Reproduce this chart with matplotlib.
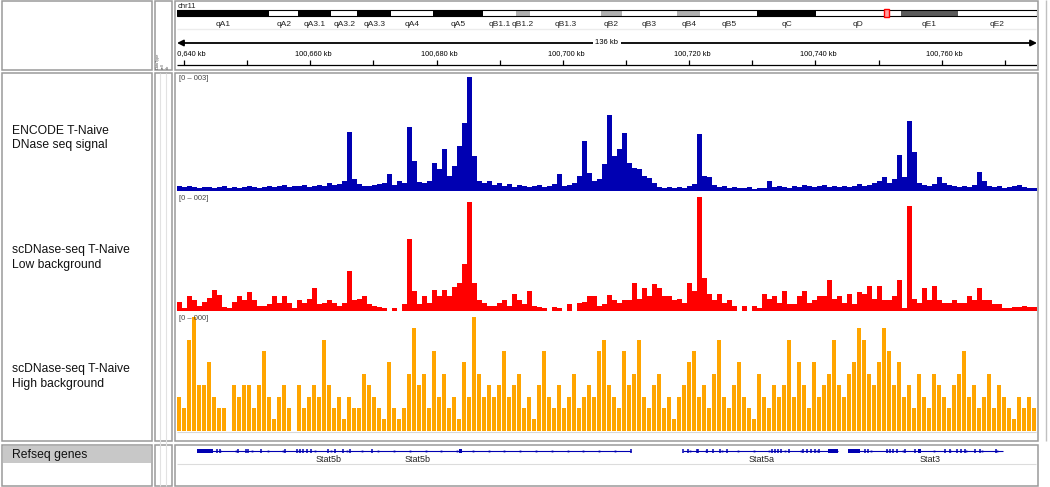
import matplotlib.pyplot as plt
from matplotlib.patches import Rectangle
import numpy as np

plt.rcParams['font.family'] = ['Liberation Sans', 'DejaVu Sans']

W, H = 1050, 487

# visible window on chr11, in kb
view_start = 100638.9
view_end = 100775.1
bin_kb = 0.792

# ENCODE T-Naive DNase signal, range 0-3
encode_signal = [
    0.13, 0.11, 0.13, 0.11, 0.08, 0.11, 0.11, 0.08, 0.11, 0.13, 0.08, 0.11, 0.08, 0.11, 0.13, 0.11, 0.08,
    0.11, 0.13, 0.11, 0.13, 0.16, 0.11, 0.13, 0.13, 0.16, 0.11, 0.13, 0.16, 0.13, 0.21, 0.16, 0.18,
    0.26, 1.55, 0.32, 0.18, 0.13, 0.13, 0.16, 0.18, 0.21, 0.45,
    0.16, 0.26, 0.21, 1.68, 0.79, 0.24, 0.21, 0.26, 0.74, 0.58,
    1.11, 0.39, 0.66, 1.18, 1.79, 3.0, 0.92, 0.26, 0.21, 0.26,
    0.16, 0.21, 0.13, 0.18, 0.11, 0.16, 0.13, 0.11, 0.13, 0.16,
    0.11, 0.13, 0.18, 0.45, 0.13, 0.16, 0.21, 0.39, 1.32, 0.47,
    0.26, 0.32, 0.71, 2.0, 0.92, 1.11, 1.53, 0.74, 0.61, 0.58,
    0.39, 0.34, 0.21, 0.11, 0.08, 0.11, 0.08, 0.11, 0.08, 0.13,
    0.18, 1.5, 0.39, 0.37, 0.16, 0.11, 0.13, 0.08, 0.11, 0.08,
    0.08, 0.11, 0.05, 0.08, 0.08, 0.26, 0.11, 0.13, 0.11, 0.08,
    0.13, 0.11, 0.16, 0.13, 0.11, 0.13, 0.16, 0.11, 0.13, 0.11,
    0.13, 0.11, 0.13, 0.18, 0.13, 0.16, 0.21, 0.26, 0.37, 0.21,
    0.32, 0.95, 0.37, 1.84, 1.03, 0.21, 0.16, 0.13, 0.18, 0.37,
    0.21, 0.16, 0.13, 0.11, 0.13, 0.11, 0.16, 0.5, 0.26, 0.13,
    0.11, 0.13, 0.08, 0.11, 0.13, 0.16, 0.11, 0.08, 0.08,
]

# scDNase-seq low background, range 0-2
low_bg_signal = [
    0.16, 0.05, 0.25, 0.18, 0.09, 0.16, 0.23, 0.37, 0.28, 0.07,
    0.05, 0.16, 0.25, 0.18, 0.32, 0.18, 0.09, 0.09, 0.11, 0.25,
    0.14, 0.25, 0.14, 0.04, 0.18, 0.14, 0.21, 0.4, 0.11, 0.14,
    0.18, 0.14, 0.09, 0.14, 0.7, 0.18, 0.21, 0.25, 0.11, 0.09,
    0.07, 0.05, 0, 0.05, 0, 0.11, 1.25, 0.35, 0.11, 0.25,
    0.14, 0.37, 0.25, 0.37, 0.25, 0.42, 0.49, 0.82, 1.91, 0.49,
    0.18, 0.14, 0.09, 0.09, 0.14, 0.18, 0.09, 0.3, 0.18, 0.11,
    0.35, 0.09, 0.07, 0.05, 0, 0.07, 0.05, 0, 0.12, 0,
    0.14, 0.16, 0.25, 0.25, 0.09, 0.11, 0.28, 0.18, 0.14, 0.18,
    0.18, 0.49, 0.21, 0.4, 0.25, 0.47, 0.4, 0.26, 0.25, 0.18,
    0.21, 0.14, 0.49, 0.35, 2.0, 0.58, 0.3, 0.18, 0.3, 0.14,
    0.18, 0.09, 0, 0.09, 0, 0.09, 0.05, 0.3, 0.21, 0.25,
    0.14, 0.35, 0.11, 0.11, 0.25, 0.35, 0.14, 0.18, 0.26, 0.25,
    0.53, 0.21, 0.25, 0.14, 0.3, 0.11, 0.32, 0.3, 0.44, 0.21,
    0.44, 0.18, 0.18, 0.25, 0.53, 0.05, 1.84, 0.21, 0.14, 0.4,
    0.18, 0.44, 0.18, 0.14, 0.14, 0.18, 0.14, 0.14, 0.26, 0.18,
    0.39, 0.18, 0.18, 0.11, 0.11, 0.04, 0.04, 0.07, 0.07, 0.09,
    0.07, 0.07,
]

# scDNase-seq high background, read counts per bin
high_bg_counts = [
    3, 2, 8, 10, 4, 4, 6, 3, 2, 2,
    0, 4, 3, 4, 4, 2, 4, 7, 3, 1,
    3, 4, 2, 0, 4, 2, 3, 4, 3, 8,
    4, 2, 3, 1, 3, 2, 2, 5, 4, 3,
    2, 1, 6, 2, 1, 2, 5, 9, 4, 5,
    2, 7, 3, 5, 2, 3, 1, 6, 3, 10,
    5, 3, 4, 3, 4, 7, 3, 4, 5, 2,
    3, 1, 4, 7, 3, 2, 4, 2, 3, 5,
    2, 3, 4, 3, 7, 8, 4, 3, 2, 7,
    4, 5, 8, 3, 2, 4, 5, 2, 3, 1,
    3, 4, 6, 7, 3, 4, 2, 5, 8, 3,
    2, 4, 6, 3, 2, 1, 5, 3, 2, 4,
    3, 4, 8, 3, 6, 4, 2, 6, 3, 4,
    5, 8, 4, 3, 5, 6, 9, 8, 5, 4,
    6, 9, 7, 4, 6, 3, 4, 2, 5, 3,
    2, 5, 4, 3, 2, 4, 5, 7, 3, 4,
    2, 3, 5, 2, 4, 3, 2, 1, 3, 2,
    3, 2,
]

track_names = [('ENCODE T-Naive', 'DNase seq signal'),
               ('scDNase-seq T-Naive', 'Low background'),
               ('scDNase-seq T-Naive', 'High background')]
track_ranges = ['[0 \u2013 003]', '[0 \u2013 002]', '[0 \u2013 000]']
track_max = [3.0, 2.0, 10]
track_colors = ['#0000b2', '#ff0000', '#ffa500']

# chr11 ideogram (Mb)
chrom_len = 122.1
band_names = ['qA1', 'qA2', 'qA3.1', 'qA3.2', 'qA3.3', 'qA4', 'qA5', 'qB1.1', 'qB1.2',
              'qB1.3', 'qB2', 'qB3', 'qB4', 'qB5', 'qC', 'qD', 'qE1', 'qE2']
band_start = [0, 13.1, 17.2, 21.9, 25.6, 30.4, 36.4, 43.5, 48.1,
              50.1, 60.2, 63.2, 71.0, 74.3, 82.4, 90.7, 102.8, 110.9]
band_stain = ['gpos100', 'gneg', 'gpos100', 'gneg', 'gpos100', 'gneg', 'gpos100', 'gneg', 'gpos33',
              'gneg', 'gpos33', 'gneg', 'gpos33', 'gneg', 'gpos100', 'gneg', 'gpos75', 'gneg']
stain_colors = {'gpos100': 'black', 'gneg': 'white', 'gpos33': '#b0b0b0', 'gpos75': '#5a5a5a'}

# refseq genes (kb)
gene_spans = [(100642.06, 100710.78), (100719.02, 100743.56), (100745.14, 100769.69)]
gene_exons = [
    [100645.23, 100645.70, 100648.55, 100649.82, 100650.13, 100652.19, 100655.99, 100657.89,
     100658.37, 100658.84, 100659.48, 100660.11, 100662.80, 100663.91, 100665.18, 100666.29,
     100669.77, 100710.78],
    [100719.02, 100719.81, 100721.23, 100721.39, 100722.82, 100723.77, 100724.88, 100725.98,
     100733.11, 100733.58, 100734.06, 100734.53, 100735.80, 100738.02, 100738.65, 100739.28,
     100739.92, 100740.55],
    [100747.84, 100748.31, 100751.32, 100751.80, 100752.27, 100752.90, 100754.17, 100755.75,
     100760.50, 100761.30, 100762.40, 100763.04, 100763.67, 100765.25, 100766.05, 100768.58],
]
gene_blocks = [[(100642.06, 100644.59), (100683.55, 100684.02)],
               [(100741.98, 100743.56)],
               [(100745.14, 100747.04), (100756.23, 100756.70)]]
gene_labels = [('Stat5b', 100662.96), ('Stat5b', 100677.05), ('Stat5a', 100731.53), ('Stat3', 100758.13)]

fig = plt.figure(figsize=(W / 100, H / 100), dpi=100)
fig.patch.set_facecolor('white')


def px_axes(x0, y0, x1, y1):
    ax = fig.add_axes([x0 / W, 1 - y1 / H, (x1 - x0) / W, (y1 - y0) / H])
    ax.axis('off')
    return ax


# ideogram
ideo = px_axes(177, 0, 1037, 30)
ideo.set_xlim(0, chrom_len)
ideo.set_ylim(30, 0)
band_end = band_start[1:] + [chrom_len]
for name, s, e, st in zip(band_names, band_start, band_end, band_stain):
    ideo.add_patch(Rectangle((s, 10), e - s, 6, facecolor=stain_colors[st], edgecolor='none'))
    ideo.text((s + e) / 2, 24, name, fontsize=6, ha='center', va='center', color='#222222')
ideo.add_patch(Rectangle((0, 10), chrom_len, 6, facecolor='none', edgecolor='black', lw=0.8))
view_mb = (view_start + view_end) / 2000
ideo.add_patch(Rectangle((view_mb - 0.33, 9.3), 0.66, 7.4, facecolor='#ffa0a0', edgecolor='red', lw=1))
ideo.text(0.15, 6, 'chr11', fontsize=5.5, ha='left', va='center', color='#222222')

# ruler
ruler = px_axes(177, 30, 1037, 70)
ruler.set_xlim(view_start, view_end)
ruler.set_ylim(70, 30)
ruler.annotate('', xy=(view_start, 43), xytext=(view_end, 43),
               arrowprops=dict(arrowstyle='<|-|>', lw=1.3, color='black',
                               mutation_scale=9, shrinkA=0, shrinkB=0))
ruler.text((view_start + view_end) / 2, 43, '%d kb' % round(view_end - view_start), fontsize=5.5,
           ha='center', va='center', bbox=dict(facecolor='white', edgecolor='none', pad=1.5))
ruler.hlines(65, view_start, view_end, color='black', lw=0.9)
ruler.vlines(np.arange(100640, 100771, 10), 60, 65, color='black', lw=0.9)
for v in np.arange(100640, 100761, 20):
    ruler.text(v + 0.5, 54, '{:,} kb'.format(int(v)), fontsize=5.3, ha='center', va='center', clip_on=True)

# data tracks
tops = [76.7, 196.7, 316.7]
bases = [190.7, 310.7, 430.7]
for k, vals in enumerate([encode_signal, low_bg_signal, high_bg_counts]):
    ax = px_axes(177, tops[k], 1037, bases[k])
    x = view_start + bin_kb * np.arange(len(vals))
    w = bin_kb * (0.85 if k == 2 else 1.0)
    ax.bar(x, vals, width=w, align='edge', color=track_colors[k], linewidth=0)
    ax.set_xlim(view_start, view_end)
    ax.set_ylim(0, track_max[k])

# genes
gax = px_axes(177, 445, 1037, 486)
gax.set_xlim(view_start, view_end)
gax.set_ylim(486, 445)
gene_blue = '#0000b2'
for (s, e), exons, blocks in zip(gene_spans, gene_exons, gene_blocks):
    gax.hlines(451, s, e, color=gene_blue, lw=0.8)
    gax.vlines(exons, 448.8, 453.2, color=gene_blue, lw=1.1)
    for bs, be in blocks:
        gax.add_patch(Rectangle((bs, 448.8), be - bs, 4.4, facecolor=gene_blue, edgecolor='none'))
    marks = np.arange(s + 1.2, e - 0.5, 2.5)
    gax.plot(marks, [451] * len(marks), 's', ms=1.3, color=gene_blue, mec='none')
for name, pos in gene_labels:
    gax.text(pos, 460, name, fontsize=6.5, ha='center', va='center', color='#222222')

# frame, labels and panel decorations
bg = px_axes(0, 0, W, H)
bg.set_xlim(0, W)
bg.set_ylim(H, 0)
frame = '#9a9a9a'
for x0, x1 in [(2, 152), (155, 172), (175, 1038)]:
    for y0, y1 in [(1, 70), (73, 441), (445, 486)]:
        bg.add_patch(Rectangle((x0, y0), x1 - x0, y1 - y0, facecolor='none', edgecolor=frame, lw=1.1))
bg.vlines(1046, 0, 441, color='#c0c0c0', lw=1)
bg.vlines([160, 166], 73, 486, color='#e2e2e2', lw=0.8)
bg.hlines(29, 177, 1036, color='#ececec', lw=1)
bg.hlines(431.7, 177, 1036, color='#d8d8d8', lw=0.8)
bg.hlines(464, 177, 1036, color='#dcdcdc', lw=0.8)
for xa, t in zip([157.5, 162.5, 167.5], ['DataType', 'cell', 'ab']):
    bg.text(xa, 69, t, fontsize=2.8, rotation=90, ha='center', va='bottom', color='#555555')

label_y = [(131, 145), (250, 265), (369, 384)]
for (l1, l2), (y1, y2), rng, top in zip(track_names, label_y, track_ranges, tops):
    bg.text(12, y1, l1, fontsize=8.7, ha='left', va='center', color='#111111')
    bg.text(12, y2, l2, fontsize=8.7, ha='left', va='center', color='#111111')
    bg.text(179, top + 1.3, rng, fontsize=5.5, ha='left', va='center', color='#444444')

bg.add_patch(Rectangle((3, 446), 148, 17, facecolor='#c8c8c8', edgecolor='none'))
bg.text(12, 455, 'Refseq genes', fontsize=8.7, ha='left', va='center', color='#111111')

fig.savefig('out.png', dpi=100)
